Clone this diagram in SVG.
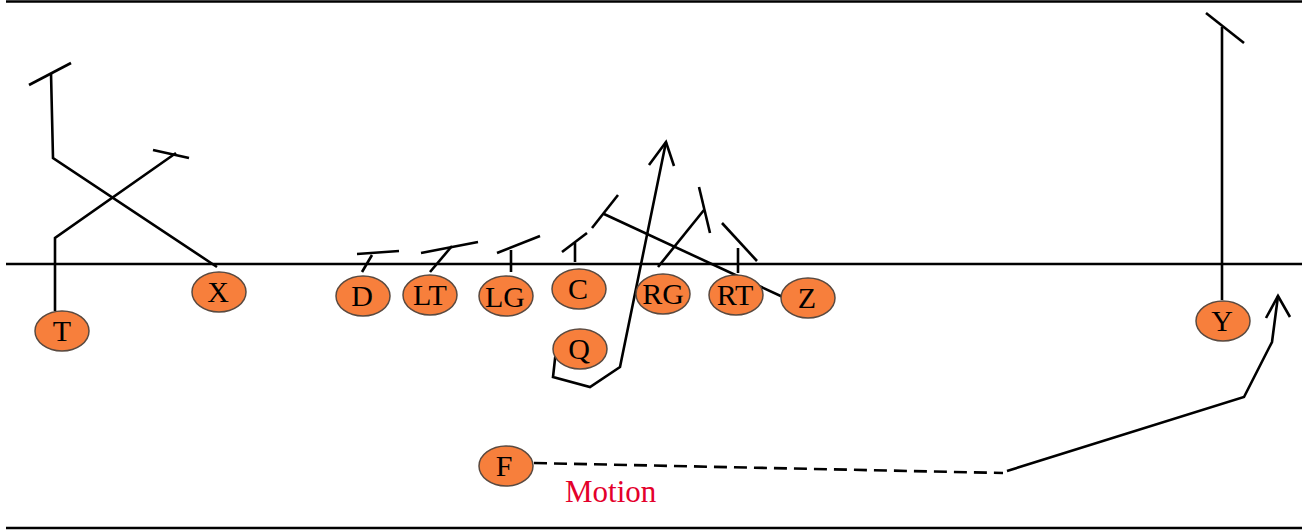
<svg xmlns="http://www.w3.org/2000/svg" width="1307" height="531" viewBox="0 0 1307 531">
<style>
.ln{stroke:#000;stroke-width:2.6;fill:none;stroke-linecap:butt;stroke-linejoin:miter}
.pl ellipse{fill:#f77f3c;stroke:#5a4a40;stroke-width:1.5}
.pl text{font-family:"Liberation Serif",serif;font-size:30px;fill:#000;text-anchor:middle}
.lbl{font-family:"Liberation Serif",serif;font-size:31px;fill:#e4002b}
</style>
<rect width="1307" height="531" fill="#fff"/>
<g id="field">
<line class="ln" x1="6" y1="1.5" x2="1302" y2="1.5"/>
<line class="ln" x1="6" y1="264" x2="1302" y2="264"/>
<line class="ln" x1="6" y1="528" x2="1302" y2="528"/>
</g>
<g id="connectors">
<polyline class="ln" points="55,311 55,238 176,153"/>
<line class="ln" x1="153" y1="150" x2="189" y2="158"/>
<polyline class="ln" points="217,267 53,158 51,73"/>
<line class="ln" x1="29" y1="85" x2="71" y2="63"/>
<line class="ln" x1="362" y1="272" x2="372" y2="255"/>
<line class="ln" x1="357" y1="254" x2="399" y2="251"/>
<line class="ln" x1="430" y1="272" x2="452" y2="246"/>
<line class="ln" x1="421" y1="253" x2="478" y2="242"/>
<line class="ln" x1="511" y1="272" x2="511" y2="250"/>
<line class="ln" x1="497" y1="253" x2="540" y2="236"/>
<line class="ln" x1="575" y1="262" x2="575" y2="243"/>
<line class="ln" x1="562" y1="252" x2="587" y2="233"/>
<line class="ln" x1="785" y1="298" x2="604" y2="214"/>
<line class="ln" x1="592" y1="228" x2="618" y2="195"/>
<line class="ln" x1="658" y1="267" x2="704" y2="210"/>
<line class="ln" x1="699" y1="187" x2="710" y2="233"/>
<line class="ln" x1="738" y1="273" x2="738" y2="248"/>
<line class="ln" x1="722" y1="223" x2="757" y2="261"/>
<polyline class="ln" points="557,341 553,377 590,387 620,367 666,142"/>
<polyline class="ln" points="649,165 666,142 674,166"/>
<line class="ln" x1="1222" y1="300" x2="1222" y2="27"/>
<line class="ln" x1="1206" y1="13" x2="1244" y2="43"/>
<line class="ln" x1="534" y1="463" x2="1003" y2="473" stroke-dasharray="13,7"/>
<polyline class="ln" points="1007,471 1244,397 1272,342 1278,296"/>
<polyline class="ln" points="1266,318 1278,296 1290,317"/>
</g>
<g id="T" class="pl"><ellipse cx="62" cy="331" rx="27" ry="20"/><text x="62" y="341">T</text></g>
<g id="X" class="pl"><ellipse cx="219" cy="292" rx="27" ry="20"/><text x="218" y="302">X</text></g>
<g id="D" class="pl"><ellipse cx="363" cy="296" rx="27" ry="20"/><text x="362" y="306">D</text></g>
<g id="LT" class="pl"><ellipse cx="430" cy="295" rx="27" ry="20"/><text x="430" y="305">LT</text></g>
<g id="LG" class="pl"><ellipse cx="506" cy="296" rx="27" ry="20"/><text x="505" y="307">LG</text></g>
<g id="C" class="pl"><ellipse cx="579" cy="289" rx="27" ry="20"/><text x="578" y="299">C</text></g>
<g id="RG" class="pl"><ellipse cx="663" cy="294" rx="27" ry="20"/><text x="663" y="304">RG</text></g>
<g id="RT" class="pl"><ellipse cx="736" cy="295" rx="27" ry="20"/><text x="735" y="305">RT</text></g>
<g id="Z" class="pl"><ellipse cx="808" cy="298" rx="27" ry="20"/><text x="807" y="308">Z</text></g>
<g id="Q" class="pl"><ellipse cx="580" cy="349" rx="27" ry="20"/><text x="579" y="359">Q</text></g>
<g id="F" class="pl"><ellipse cx="506" cy="466" rx="27" ry="20"/><text x="504" y="476">F</text></g>
<g id="Y" class="pl"><ellipse cx="1223" cy="321" rx="27" ry="20"/><text x="1222" y="331">Y</text></g>
<text id="motion" class="lbl" x="565" y="502">Motion</text>
</svg>
